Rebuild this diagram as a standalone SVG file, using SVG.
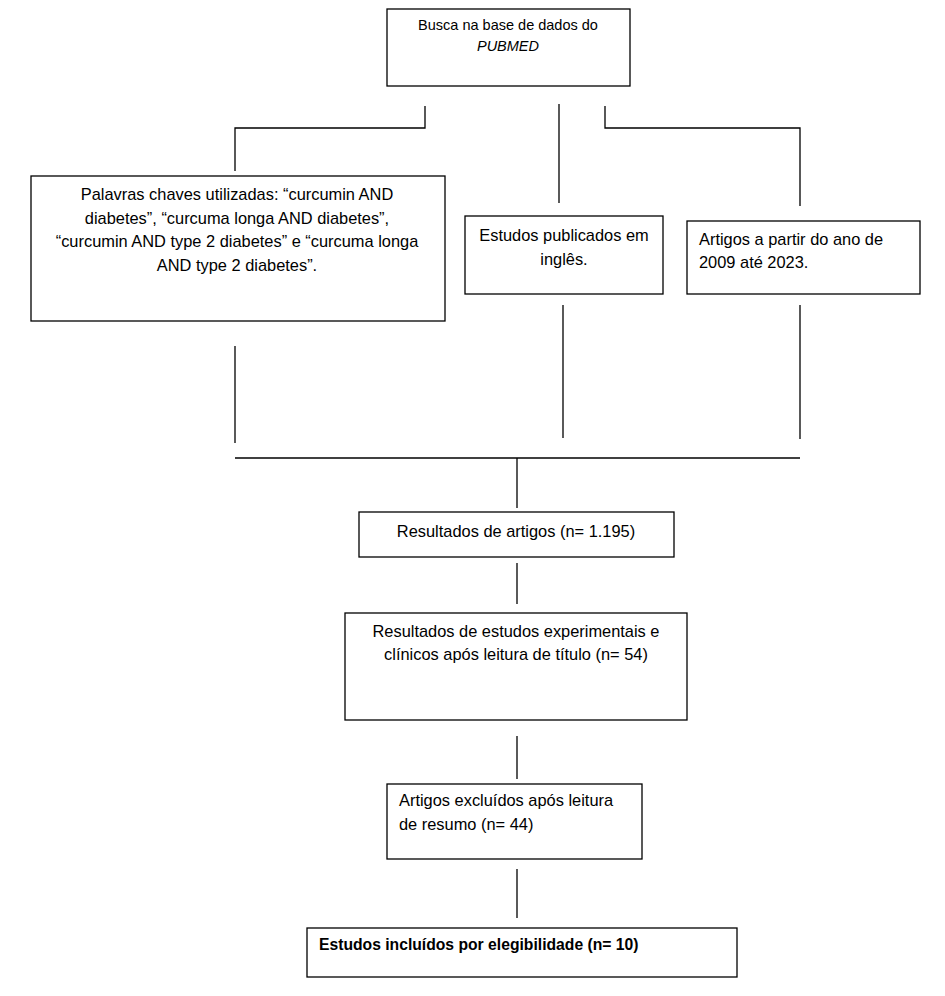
<svg xmlns="http://www.w3.org/2000/svg" width="945" height="996" viewBox="0 0 945 996">
<style>
.box{fill:#fff;stroke:#000;stroke-width:1.3}
.ln{fill:none;stroke:#000;stroke-width:1.3}
text{font-family:"Liberation Sans",Arial,sans-serif;font-size:16.4px;fill:#000}
.s{font-size:14.5px}
.c{text-anchor:middle}
.i{font-style:italic}
.b{font-weight:bold;font-size:15.7px}
</style>
<rect width="945" height="996" fill="#fff"/>
<g id="connectors">
<polyline class="ln" points="425,106 425,128 235,128 235,171"/>
<line class="ln" x1="559" y1="104" x2="559" y2="203"/>
<polyline class="ln" points="605,106 605,128 800,128 800,206"/>
<line class="ln" x1="235" y1="346" x2="235" y2="443"/>
<line class="ln" x1="563" y1="305" x2="563" y2="438"/>
<line class="ln" x1="800" y1="305" x2="800" y2="439"/>
<line class="ln" x1="235" y1="458" x2="800" y2="458"/>
<line class="ln" x1="517" y1="458" x2="517" y2="508"/>
<line class="ln" x1="517" y1="563" x2="517" y2="604"/>
<line class="ln" x1="517" y1="736" x2="517" y2="779"/>
<line class="ln" x1="517" y1="869" x2="517" y2="918"/>
</g>
<g id="busca">
<rect class="box" x="387" y="9" width="243" height="77"/>
<text class="c s" x="508" y="30">Busca na base de dados do</text>
<text class="c s i" x="508" y="51">PUBMED</text>
</g>
<g id="palavras">
<rect class="box" x="31" y="176" width="414" height="145"/>
<text class="c" x="237" y="200">Palavras chaves utilizadas: “curcumin AND</text>
<text class="c" x="237" y="224">diabetes”, “curcuma longa AND diabetes”,</text>
<text class="c" x="237" y="247">“curcumin AND type 2 diabetes” e “curcuma longa</text>
<text class="c" x="237" y="271">AND type 2 diabetes”.</text>
</g>
<g id="ingles">
<rect class="box" x="465" y="216" width="198" height="78"/>
<text class="c" x="564" y="241">Estudos publicados em</text>
<text class="c" x="564" y="265">inglês.</text>
</g>
<g id="anos">
<rect class="box" x="687" y="221" width="233" height="73"/>
<text x="699" y="245">Artigos a partir do ano de</text>
<text x="699" y="268">2009 até 2023.</text>
</g>
<g id="resultados">
<rect class="box" x="359" y="512" width="315" height="45"/>
<text class="c" x="516" y="537">Resultados de artigos (n= 1.195)</text>
</g>
<g id="experimentais">
<rect class="box" x="345" y="613" width="342" height="107"/>
<text class="c" x="516" y="637">Resultados de estudos experimentais e</text>
<text class="c" x="516" y="660">clínicos após leitura de título (n= 54)</text>
</g>
<g id="excluidos">
<rect class="box" x="387" y="784" width="255" height="75"/>
<text x="399" y="806">Artigos excluídos após leitura</text>
<text x="399" y="830">de resumo (n= 44)</text>
</g>
<g id="incluidos">
<rect class="box" x="307" y="928" width="430" height="49"/>
<text class="b" x="319" y="950">Estudos incluídos por elegibilidade (n= 10)</text>
</g>
</svg>
